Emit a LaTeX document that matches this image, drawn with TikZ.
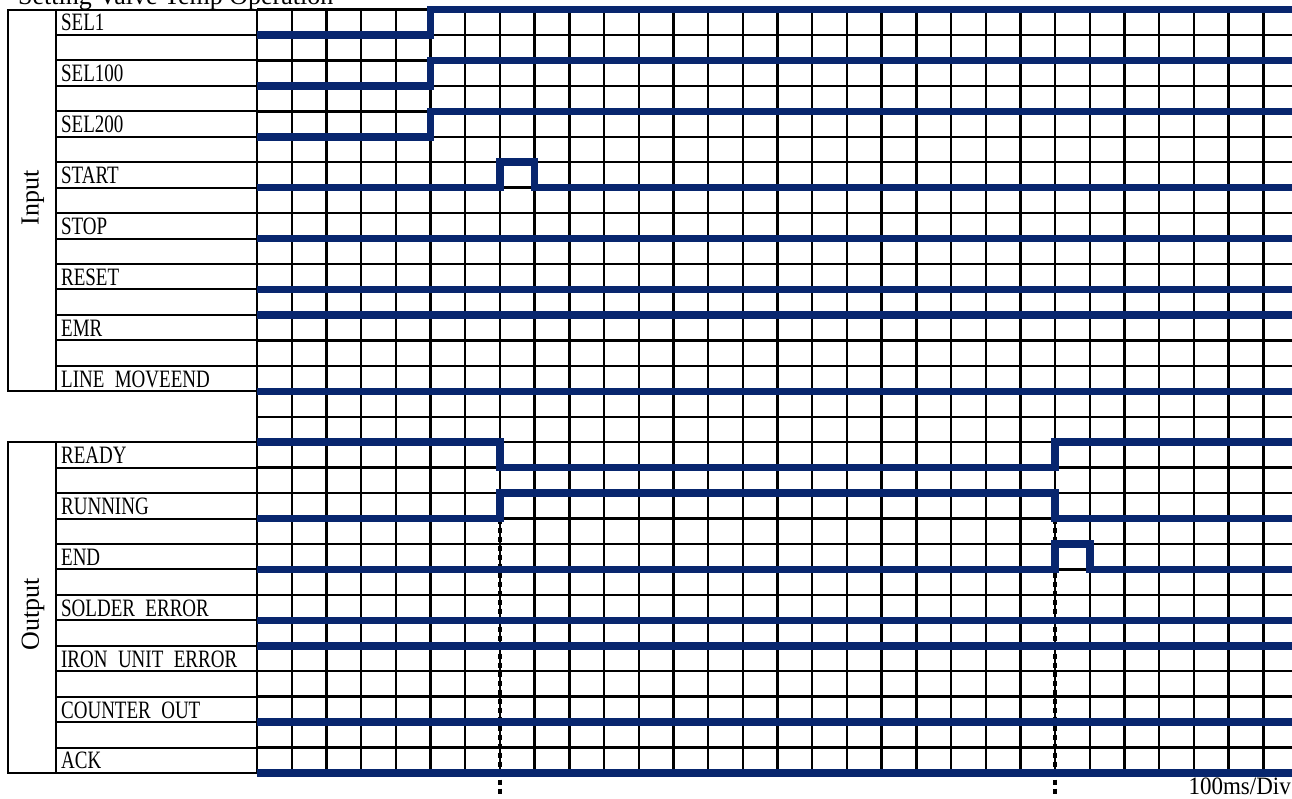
\documentclass[tikz,border=0pt]{standalone}
\usepackage{fontspec}
\setmainfont{Liberation Serif}
\newfontfamily\lblfont[FakeStretch=0.76,WordSpace=2.2]{Liberation Serif}
\newfontfamily\divfont[FakeStretch=0.92]{Liberation Serif}
\definecolor{sig}{RGB}{8,38,110}
\tikzset{
  gl/.style={line width=2.4pt, black},
  box/.style={line width=2pt, black},
  wave/.style={line width=7.5pt, sig, line join=miter},
  mark90/.style={black, line width=3.5pt, dash pattern=on 5pt off 4pt},
  lbl/.style={anchor=west, inner sep=0pt, font=\lblfont\fontsize{25}{25}\selectfont},
  side/.style={rotate=90, inner sep=0pt, font=\fontsize{26}{26}\selectfont}
}
\begin{document}
\begin{tikzpicture}[x=1pt,y=1pt]
\useasboundingbox (0,0) rectangle (1292,-798);
\clip (0,0) rectangle (1292,-798);
\node[anchor=base west, inner sep=0pt, font=\fontsize{26}{26}\selectfont] (title) at (18,-4) {Setting Valve Temp Operation};
\node[anchor=east, inner sep=0pt, font=\divfont\fontsize{25}{25}\selectfont] (div) at (1291,-786) {100ms/Div};
\node[side] (in) at (33,-198) {Input};
\node[side] (out) at (33,-614) {Output};
\begin{scope}[x=34.7pt,y=-25.45pt,shift={(257pt,-9.5pt)}]
  % grid
  \foreach \k in {0,...,30} \draw[gl] (\k,0) -- (\k,30);
  \foreach \r in {0,...,30} \draw[gl] (0,\r) -- (31,\r);
  % label boxes
  \draw[box] (-7.176,0) rectangle (0,15);
  \draw[box] (-5.793,0) -- (-5.793,15);
  \foreach \r in {1,...,14} \draw[box] (-5.793,\r) -- (0,\r);
  \draw[box] (-7.176,17) rectangle (0,30);
  \draw[box] (-5.793,17) -- (-5.793,30);
  \foreach \r in {18,...,29} \draw[box] (-5.793,\r) -- (0,\r);
  % labels
  \node[lbl] (l1) at (-5.65,0.52) {SEL1};
  \node[lbl] (l2) at (-5.65,2.52) {SEL100};
  \node[lbl] (l3) at (-5.65,4.52) {SEL200};
  \node[lbl] (l4) at (-5.65,6.52) {START};
  \node[lbl] (l5) at (-5.65,8.52) {STOP};
  \node[lbl] (l6) at (-5.65,10.52) {RESET};
  \node[lbl] (l7) at (-5.65,12.52) {EMR};
  \node[lbl] (l8) at (-5.65,14.52) {LINE MOVEEND};
  \node[lbl] (o1) at (-5.65,17.52) {READY};
  \node[lbl] (o2) at (-5.65,19.52) {RUNNING};
  \node[lbl] (o3) at (-5.65,21.52) {END};
  \node[lbl] (o4) at (-5.65,23.52) {SOLDER ERROR};
  \node[lbl] (o5) at (-5.65,25.52) {IRON UNIT ERROR};
  \node[lbl] (o6) at (-5.65,27.52) {COUNTER OUT};
  \node[lbl] (o7) at (-5.65,29.52) {ACK};
  % marker lines
  \coordinate (m1a) at (7,20); \coordinate (m1b) at (7,30.95);
  \coordinate (m2a) at (23,20); \coordinate (m2b) at (23,30.95);
  \draw[mark90] (m1a) -- (m1b);
  \draw[mark90] (m2a) -- (m2b);
  % waveforms
  \draw[wave] (0,1) -- (5,1) -- (5,0) -- (31,0);
  \draw[wave] (0,3) -- (5,3) -- (5,2) -- (31,2);
  \draw[wave] (0,5) -- (5,5) -- (5,4) -- (31,4);
  \draw[wave] (0,7) -- (7,7) -- (7,6) -- (8,6) -- (8,7) -- (31,7);
  \draw[wave] (0,9) -- (31,9);
  \draw[wave] (0,11) -- (31,11);
  \draw[wave] (0,12) -- (31,12);
  \draw[wave] (0,15) -- (31,15);
  \draw[wave] (0,17) -- (7,17) -- (7,18) -- (23,18) -- (23,17) -- (31,17);
  \draw[wave] (0,20) -- (7,20) -- (7,19) -- (23,19) -- (23,20) -- (31,20);
  \draw[wave] (0,22) -- (23,22) -- (23,21) -- (24,21) -- (24,22) -- (31,22);
  \draw[wave] (0,24) -- (31,24);
  \draw[wave] (0,25) -- (31,25);
  \draw[wave] (0,28) -- (31,28);
  \draw[wave] (0,30) -- (31,30);
\end{scope}
\end{tikzpicture}
\end{document}
